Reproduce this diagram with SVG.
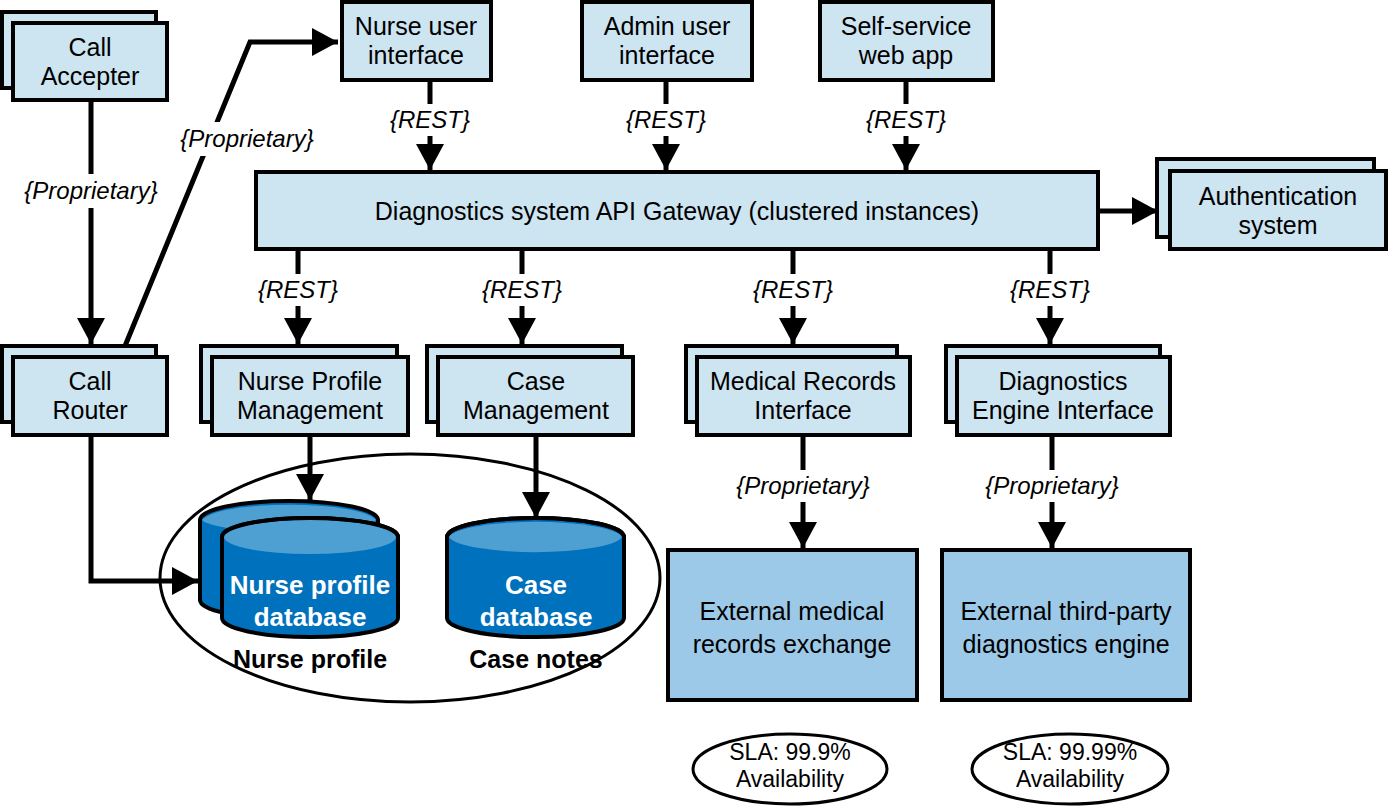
<svg xmlns="http://www.w3.org/2000/svg" width="1388" height="806" viewBox="0 0 1388 806">
<style>
.b{fill:#cde4f1;stroke:#000;stroke-width:4}
.x{fill:#9cc9e7;stroke:#000;stroke-width:4}
.t{font-family:"Liberation Sans",Arial,sans-serif;font-size:25px;fill:#000;text-anchor:middle}
.s{font-family:"Liberation Sans",Arial,sans-serif;font-size:23px;fill:#000;text-anchor:middle}
.l{font-family:"Liberation Sans",Arial,sans-serif;font-size:24px;font-style:italic;fill:#000;text-anchor:middle}
.w{font-family:"Liberation Sans",Arial,sans-serif;font-size:26px;fill:#fff;text-anchor:middle;font-weight:bold}
.k{font-family:"Liberation Sans",Arial,sans-serif;font-size:25px;fill:#000;text-anchor:middle;font-weight:bold}
.c{fill:none;stroke:#000;stroke-width:5;marker-end:url(#a)}
.e{fill:#fff;stroke:#000;stroke-width:3}
.cb{fill:#0071bc;stroke:#000;stroke-width:4}
.ct{fill:#4e9fd2;stroke:none}
.bg{fill:#fff;stroke:none}
</style>
<defs>
<marker id="a" markerUnits="userSpaceOnUse" markerWidth="30" markerHeight="30" refX="26" refY="14" orient="auto"><path d="M0,0 L26,14 L0,28 Z" fill="#000"/></marker>
</defs>
<rect width="1388" height="806" fill="#fff"/>
<g id="group-ellipse"><ellipse class="e" cx="410" cy="578" rx="250" ry="124"/></g>
<g id="connectors">
<path class="c" d="M91,100 V344"/>
<path class="c" d="M125,346 L250,42 H338"/>
<path class="c" d="M430,80 V170"/>
<path class="c" d="M666,80 V170"/>
<path class="c" d="M906,80 V170"/>
<path class="c" d="M1098,211 H1158"/>
<path class="c" d="M298,249 V344"/>
<path class="c" d="M522,249 V344"/>
<path class="c" d="M793,249 V344"/>
<path class="c" d="M1050,249 V344"/>
<path class="c" d="M310,435 V500"/>
<path class="c" d="M536,435 V518"/>
<path class="c" d="M803,435 V548"/>
<path class="c" d="M1052,435 V548"/>
<path class="c" d="M91,435 V581 H198"/>
<rect class="bg" x="12" y="174" width="158" height="34"/>
<text class="l" x="91" y="199">{Proprietary}</text>
<rect class="bg" x="168" y="122" width="158" height="34"/>
<text class="l" x="247" y="147">{Proprietary}</text>
<rect class="bg" x="390" y="104" width="82" height="32"/><text class="l" x="430" y="128">{REST}</text>
<rect class="bg" x="626" y="104" width="82" height="32"/><text class="l" x="666" y="128">{REST}</text>
<rect class="bg" x="866" y="104" width="82" height="32"/><text class="l" x="906" y="128">{REST}</text>
<rect class="bg" x="258" y="274" width="82" height="32"/><text class="l" x="298" y="298">{REST}</text>
<rect class="bg" x="482" y="274" width="82" height="32"/><text class="l" x="522" y="298">{REST}</text>
<rect class="bg" x="753" y="274" width="82" height="32"/><text class="l" x="793" y="298">{REST}</text>
<rect class="bg" x="1010" y="274" width="82" height="32"/><text class="l" x="1050" y="298">{REST}</text>
<rect class="bg" x="724" y="470" width="158" height="32"/><text class="l" x="803" y="494">{Proprietary}</text>
<rect class="bg" x="973" y="470" width="158" height="32"/><text class="l" x="1052" y="494">{Proprietary}</text>
</g>
<g id="call-accepter"><rect class="b" x="2" y="12" width="154" height="76"/><rect class="b" x="13" y="23" width="154" height="77"/><text class="t" x="90" y="56">Call</text><text class="t" x="90" y="85">Accepter</text></g>
<g id="call-router"><rect class="b" x="2" y="346" width="154" height="76"/><rect class="b" x="13" y="357" width="154" height="78"/><text class="t" x="90" y="390">Call</text><text class="t" x="90" y="419">Router</text></g>
<g id="nurse-ui"><rect class="b" x="342" y="2" width="149" height="78"/><text class="t" x="416" y="35">Nurse user</text><text class="t" x="416" y="64">interface</text></g>
<g id="admin-ui"><rect class="b" x="582" y="2" width="170" height="78"/><text class="t" x="667" y="35">Admin user</text><text class="t" x="667" y="64">interface</text></g>
<g id="self-service"><rect class="b" x="820" y="2" width="173" height="78"/><text class="t" x="906" y="35">Self-service</text><text class="t" x="906" y="64">web app</text></g>
<g id="gateway"><rect class="b" x="256" y="172" width="842" height="77"/><text class="t" x="677" y="220">Diagnostics system API Gateway (clustered instances)</text></g>
<g id="auth"><rect class="b" x="1157" y="159" width="217" height="78"/><rect class="b" x="1170" y="171" width="216" height="78"/><text class="t" x="1278" y="205">Authentication</text><text class="t" x="1278" y="234">system</text></g>
<g id="nurse-profile-mgmt"><rect class="b" x="201" y="346" width="196" height="76"/><rect class="b" x="212" y="357" width="196" height="78"/><text class="t" x="310" y="390">Nurse Profile</text><text class="t" x="310" y="419">Management</text></g>
<g id="case-mgmt"><rect class="b" x="427" y="346" width="195" height="76"/><rect class="b" x="438" y="357" width="195" height="78"/><text class="t" x="536" y="390">Case</text><text class="t" x="536" y="419">Management</text></g>
<g id="medical-records"><rect class="b" x="686" y="346" width="211" height="76"/><rect class="b" x="697" y="357" width="213" height="78"/><text class="t" x="803" y="390">Medical Records</text><text class="t" x="803" y="419">Interface</text></g>
<g id="diag-engine-if"><rect class="b" x="946" y="346" width="214" height="76"/><rect class="b" x="957" y="357" width="213" height="78"/><text class="t" x="1063" y="390">Diagnostics</text><text class="t" x="1063" y="419">Engine Interface</text></g>
<g id="nurse-db">
<path class="cb" d="M200,520 A89,19 0 0 1 378,520 V600 A89,19 0 0 1 200,600 Z"/>
<path class="ct" d="M202,520 A88,18 0 0 1 376,520 A88,14 0 0 1 202,520 Z"/>
<path class="cb" d="M222,537 A88,19 0 0 1 398,537 V618 A88,19 0 0 1 222,618 Z"/>
<path class="ct" d="M224,537 A86,17 0 0 1 396,537 A86,17 0 0 1 224,537 Z"/>
<path d="M222,537 A88,19 0 0 1 398,537" fill="none" stroke="#000" stroke-width="4"/>
<text class="w" x="310" y="594">Nurse profile</text><text class="w" x="310" y="626">database</text>
<text class="k" x="310" y="668">Nurse profile</text>
</g>
<g id="case-db">
<path class="cb" d="M447,537 A88,19 0 0 1 624,537 V618 A88,19 0 0 1 447,618 Z"/>
<path class="ct" d="M449,537 A87,17 0 0 1 622,537 A87,17 0 0 1 449,537 Z"/>
<path d="M447,537 A88,19 0 0 1 624,537" fill="none" stroke="#000" stroke-width="4"/>
<text class="w" x="536" y="594">Case</text><text class="w" x="536" y="626">database</text>
<text class="k" x="536" y="668">Case notes</text>
</g>
<g id="ext-medical"><rect class="x" x="668" y="550" width="249" height="150"/><text class="t" x="792" y="620">External medical</text><text class="t" x="792" y="653">records exchange</text></g>
<g id="ext-diag"><rect class="x" x="942" y="550" width="248" height="150"/><text class="t" x="1066" y="620">External third-party</text><text class="t" x="1066" y="653">diagnostics engine</text></g>
<g id="sla1"><ellipse class="e" cx="790" cy="769" rx="97" ry="35"/><text class="s" x="790" y="760">SLA: 99.9%</text><text class="s" x="790" y="787">Availability</text></g>
<g id="sla2"><ellipse class="e" cx="1070" cy="769" rx="98" ry="35"/><text class="s" x="1070" y="760">SLA: 99.99%</text><text class="s" x="1070" y="787">Availability</text></g>
</svg>
